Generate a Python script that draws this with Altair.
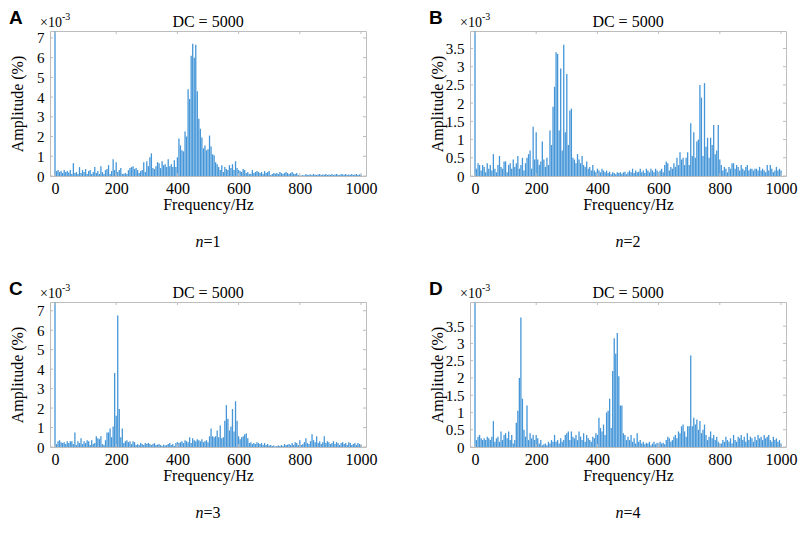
import altair as alt
import pandas as pd

# ---------------- data (amplitude values in units of 1e-3 %) ----------------
FREQS = list(range(5, 1001, 5))  # frequency bins 5..1000 Hz
DC_VALUE = 5000  # DC component (off scale, clipped at top)

AMP_A = [
    0.25, 0.3, 0.2, 0.25, 0.15, 0.3, 0.2, 0.25, 0.18, 0.3, 0.1, 0.65, 0.15, 0.2, 0.1, 0.45, 0.15, 0.3, 0.2, 0.35,
    0.1, 0.25, 0.3, 0.1, 0.2, 0.45, 0.15, 0.25, 0.1, 0.5, 0.2, 0.1, 0.3, 0.35, 0.55, 0.1, 0.25, 0.85, 0.3, 0.7,
    0.2, 0.3, 0.4, 0.1, 0.12, 0.15, 0.1, 0.3, 0.4, 0.45, 0.5, 0.35, 0.4, 0.3, 0.15, 0.25, 0.3, 0.7, 0.2, 0.75,
    0.5, 0.95, 1.15, 0.4, 0.35, 0.5, 0.7, 0.65, 0.4, 0.75, 0.55, 0.6, 0.45, 0.85, 0.5, 0.6, 0.45, 0.8, 0.45, 0.95,
    1.9, 1.55, 1.3, 1.25, 2.25, 2.0, 4.4, 3.9, 6.1, 6.7, 6.0, 6.65, 4.3, 2.9, 2.4, 1.95, 1.4, 1.55, 1.3, 1.35,
    2.05, 1.5, 1.1, 1.05, 0.7, 0.6, 0.45, 0.3, 0.55, 0.2, 0.45, 0.35, 0.3, 0.55, 0.4, 0.6, 0.3, 0.75, 0.4, 0.3,
    0.25, 0.2, 0.35, 0.3, 0.15, 0.2, 0.1, 0.12, 0.3, 0.15, 0.2, 0.25, 0.2, 0.15, 0.2, 0.1, 0.25, 0.15, 0.2, 0.25,
    0.05, 0.1, 0.15, 0.12, 0.15, 0.1, 0.2, 0.15, 0.1, 0.15, 0.2, 0.15, 0.1, 0.15, 0.2, 0.12, 0.1, 0.15, 0.05, 0.03,
    0.03, 0.05, 0.03, 0.1, 0.05, 0.06, 0.08, 0.05, 0.1, 0.06, 0.05, 0.08, 0.1, 0.05, 0.07, 0.06, 0.1, 0.05, 0.08, 0.06,
    0.1, 0.05, 0.08, 0.1, 0.06, 0.05, 0.1, 0.08, 0.06, 0.1, 0.05, 0.08, 0.06, 0.1, 0.05, 0.07, 0.1, 0.05, 0.08, 0.06,
]

AMP_B = [
    0.2, 0.35, 0.3, 0.15, 0.3, 0.25, 0.1, 0.35, 0.2, 0.3, 0.15, 0.6, 0.2, 0.1, 0.3, 0.55, 0.25, 0.2, 0.4, 0.4,
    0.1, 0.3, 0.35, 0.2, 0.45, 0.25, 0.35, 0.55, 0.2, 0.3, 0.5, 0.15, 0.35, 0.5, 0.6, 0.7, 0.2, 1.35, 0.45, 1.2,
    0.45, 0.3, 0.4, 0.95, 0.45, 0.25, 0.5, 0.3, 1.25, 0.85, 1.9, 2.45, 3.4, 3.35, 1.25, 2.95, 0.7, 3.6, 1.2, 2.8,
    0.85, 1.8, 1.85, 0.5, 0.45, 0.35, 0.6, 0.45, 0.35, 0.55, 0.3, 0.25, 0.4, 0.2, 0.25, 0.15, 0.3, 0.15, 0.1, 0.2,
    0.15, 0.1, 0.2, 0.15, 0.1, 0.15, 0.08, 0.12, 0.05, 0.1, 0.08, 0.05, 0.1, 0.08, 0.1, 0.06, 0.1, 0.12, 0.05, 0.1,
    0.15, 0.1, 0.2, 0.08, 0.15, 0.1, 0.12, 0.2, 0.1, 0.15, 0.08, 0.2, 0.15, 0.1, 0.2, 0.15, 0.1, 0.2, 0.15, 0.1,
    0.15, 0.2, 0.1, 0.3, 0.4, 0.35, 0.15, 0.25, 0.2, 0.35, 0.25, 0.5, 0.3, 0.65, 0.45, 0.5, 0.3, 0.5, 0.65, 0.3,
    1.45, 0.55, 1.2, 0.5, 0.95, 1.0, 2.5, 2.15, 0.55, 2.55, 0.8, 1.05, 0.5, 1.05, 0.85, 1.4, 0.6, 0.7, 1.4, 0.45,
    0.3, 0.15, 0.25, 0.2, 0.1, 0.25, 0.2, 0.35, 0.35, 0.2, 0.3, 0.25, 0.15, 0.3, 0.2, 0.15, 0.25, 0.3, 0.15, 0.2,
    0.2, 0.15, 0.2, 0.2, 0.15, 0.25, 0.15, 0.2, 0.15, 0.1, 0.3, 0.15, 0.3, 0.2, 0.1, 0.15, 0.25, 0.15, 0.2, 0.15,
]

AMP_C = [
    0.15, 0.3, 0.35, 0.25, 0.2, 0.25, 0.15, 0.3, 0.2, 0.3, 0.3, 0.15, 0.75, 0.1, 0.3, 0.2, 0.45, 0.15, 0.3, 0.2,
    0.35, 0.3, 0.1, 0.35, 0.15, 0.2, 0.55, 0.45, 0.4, 0.55, 0.15, 0.1, 0.35, 0.75, 0.75, 0.95, 0.5, 1.05, 3.8, 1.6,
    6.75, 1.95, 0.5, 0.95, 0.2, 0.3, 0.35, 0.25, 0.3, 0.15, 0.3, 0.25, 0.1, 0.15, 0.1, 0.2, 0.15, 0.1, 0.2, 0.15,
    0.2, 0.15, 0.1, 0.15, 0.2, 0.1, 0.12, 0.15, 0.1, 0.05, 0.12, 0.08, 0.1, 0.15, 0.2, 0.1, 0.15, 0.05, 0.2, 0.25,
    0.2, 0.25, 0.3, 0.2, 0.35, 0.3, 0.25, 0.5, 0.2, 0.45, 0.35, 0.3, 0.4, 0.35, 0.3, 0.4, 0.25, 0.3, 0.35, 0.25,
    0.55, 0.95, 0.55, 0.5, 0.55, 0.85, 0.5, 1.1, 0.45, 0.5, 1.35, 2.15, 1.45, 0.85, 1.05, 1.95, 0.8, 2.35, 1.35, 0.55,
    0.4, 0.5, 0.55, 0.65, 0.7, 0.45, 0.2, 0.25, 0.15, 0.2, 0.15, 0.25, 0.2, 0.15, 0.2, 0.1, 0.2, 0.1, 0.15, 0.08,
    0.1, 0.05, 0.08, 0.03, 0.05, 0.08, 0.05, 0.1, 0.05, 0.15, 0.1, 0.12, 0.15, 0.1, 0.2, 0.1, 0.25, 0.2, 0.1, 0.35,
    0.1, 0.15, 0.25, 0.45, 0.2, 0.15, 0.3, 0.65, 0.35, 0.25, 0.55, 0.2, 0.3, 0.15, 0.25, 0.55, 0.2, 0.3, 0.25, 0.15,
    0.2, 0.3, 0.15, 0.25, 0.2, 0.1, 0.2, 0.25, 0.15, 0.2, 0.1, 0.25, 0.2, 0.1, 0.15, 0.2, 0.1, 0.2, 0.15, 0.1,
]

AMP_D = [
    0.2, 0.3, 0.35, 0.25, 0.2, 0.25, 0.2, 0.3, 0.25, 0.2, 0.3, 0.75, 0.15, 0.25, 0.3, 0.15, 0.45, 0.2, 0.35, 0.4,
    0.25, 0.45, 0.2, 0.35, 0.1, 0.2, 0.7, 1.05, 2.0, 3.75, 1.4, 0.5, 0.3, 1.2, 0.2, 0.4, 0.25, 0.35, 0.2, 0.35,
    0.25, 0.1, 0.2, 0.05, 0.08, 0.1, 0.05, 0.15, 0.1, 0.2, 0.15, 0.35, 0.15, 0.2, 0.1, 0.25, 0.15, 0.2, 0.35, 0.4,
    0.45, 0.2, 0.45, 0.3, 0.25, 0.35, 0.2, 0.45, 0.3, 0.2, 0.4, 0.15, 0.35, 0.25, 0.2, 0.15, 0.3, 0.25, 0.4, 0.35,
    0.85, 0.55, 0.45, 0.65, 0.35, 1.0, 1.05, 1.4, 0.55, 2.2, 3.15, 2.7, 3.3, 2.05, 1.2, 1.2, 0.4, 0.35, 0.2, 0.3,
    0.2, 0.35, 0.15, 0.25, 0.1, 0.4, 0.15, 0.2, 0.1, 0.15, 0.08, 0.12, 0.1, 0.15, 0.05, 0.1, 0.15, 0.08, 0.12, 0.1,
    0.15, 0.1, 0.12, 0.08, 0.2, 0.3, 0.25, 0.15, 0.2, 0.3, 0.35, 0.25, 0.45, 0.4, 0.6, 0.65, 0.45, 0.3, 0.6, 0.6,
    2.65, 0.6, 0.85, 0.65, 0.8, 0.5, 0.75, 0.4, 0.5, 0.65, 0.35, 0.2, 0.3, 0.45, 0.25, 0.35, 0.2, 0.3, 0.15, 0.1,
    0.1, 0.2, 0.15, 0.3, 0.2, 0.15, 0.25, 0.1, 0.35, 0.2, 0.15, 0.3, 0.25, 0.35, 0.2, 0.3, 0.15, 0.4, 0.2, 0.3,
    0.25, 0.15, 0.3, 0.2, 0.35, 0.25, 0.3, 0.2, 0.35, 0.25, 0.3, 0.35, 0.2, 0.15, 0.3, 0.2, 0.25, 0.15, 0.2, 0.1,
]

LETTERS = ["A", "B", "C", "D"]
N_VALUES = ["=1", "=2", "=3", "=4"]
TITLE = "DC = 5000"
X_TITLE = "Frequency/Hz"
Y_TITLE = "Amplitude (%)"
X_TICKS = [0, 200, 400, 600, 800, 1000]
Y_TICKS_BIG = [0, 1, 2, 3, 4, 5, 6, 7]
Y_TICKS_SMALL = [0, 0.5, 1, 1.5, 2, 2.5, 3, 3.5]
Y_MAX = [7.35, 3.98, 7.45, 4.2]

# ---------------- style ----------------
SERIF = "Liberation Serif"
SANS = "Liberation Sans"
BAR = "#4596d8"
BOX = "#bdbdbd"
W, H = 316, 145


def text_layer(s, x, y, size, align="left", baseline="alphabetic", font=SERIF,
               weight="normal", style="normal"):
    return alt.Chart(pd.DataFrame({"t": [s]})).mark_text(
        font=font, fontSize=size, align=align, baseline=baseline,
        fontWeight=weight, fontStyle=style, color="black"
    ).encode(x=alt.value(x), y=alt.value(y), text="t:N")


def panel(letter, nval, amps, ymax, yticks):
    df = pd.DataFrame({"f": [0] + FREQS, "amp": [DC_VALUE] + amps})
    xs = alt.Scale(domain=[0, 1000], nice=False, zero=False)
    ys = alt.Scale(domain=[0, ymax], nice=False, clamp=True)
    xaxis = alt.Axis(
        values=X_TICKS, format="d", ticks=False, domain=False, grid=False,
        labelFont=SERIF, labelFontSize=16, labelColor="black", labelPadding=4,
        labelFlush=False, labelOverlap=False,
        title=X_TITLE, titleFont=SERIF, titleFontSize=16, titleFontWeight="normal",
        titleColor="black", titlePadding=0)
    yaxis = alt.Axis(
        values=yticks, format="~g", ticks=False, domain=False, grid=False,
        labelFont=SERIF, labelFontSize=15, labelColor="black", labelPadding=6,
        labelFlush=False, labelOverlap=False,
        title=Y_TITLE, titleFont=SERIF, titleFontSize=16, titleFontWeight="normal",
        titleColor="black", titleX=-28, titleY=H / 2, titleAngle=270,
        titleAlign="center", titleBaseline="alphabetic")
    X = alt.X("f:Q", scale=xs, axis=xaxis, title=X_TITLE)
    Y = alt.Y("amp:Q", scale=ys, axis=yaxis, title=Y_TITLE)

    bars = alt.Chart(df).mark_bar(width=1.3, color=BAR).encode(x=X, y=Y)
    xt = pd.DataFrame({"f": X_TICKS})
    yt = pd.DataFrame({"amp": yticks})
    tick_bottom = alt.Chart(xt).mark_rule(color=BOX).encode(
        x=X, y=alt.value(H), y2=alt.value(H - 3))
    tick_top = alt.Chart(xt).mark_rule(color=BOX).encode(
        x=X, y=alt.value(0), y2=alt.value(3))
    tick_left = alt.Chart(yt).mark_rule(color=BOX).encode(
        y=Y, x=alt.value(0), x2=alt.value(3))
    tick_right = alt.Chart(yt).mark_rule(color=BOX).encode(
        y=Y, x=alt.value(W - 3), x2=alt.value(W))

    texts = [
        text_layer(TITLE, W / 2, -4, 16, align="center"),
        text_layer("\u00d710", -10, -4, 14),
        text_layer("-3", 12, -11, 10),
        text_layer(letter, -41, -22, 19, baseline="top", font=SANS, weight="bold"),
        text_layer("n", W / 2 - 4.5, H + 66, 16, align="right", baseline="middle", style="italic"),
        text_layer(nval, W / 2 - 4.5, H + 66, 16, align="left", baseline="middle"),
    ]
    return alt.layer(bars, tick_bottom, tick_top, tick_left, tick_right, *texts).properties(
        width=W, height=H)


panels = [
    panel(LETTERS[0], N_VALUES[0], AMP_A, Y_MAX[0], Y_TICKS_BIG),
    panel(LETTERS[1], N_VALUES[1], AMP_B, Y_MAX[1], Y_TICKS_SMALL),
    panel(LETTERS[2], N_VALUES[2], AMP_C, Y_MAX[2], Y_TICKS_BIG),
    panel(LETTERS[3], N_VALUES[3], AMP_D, Y_MAX[3], Y_TICKS_SMALL),
]

chart = alt.concat(
    *panels, columns=2, spacing={"row": 126, "column": 104}, bounds="flush"
).properties(padding=0, background="white").configure_view(
    stroke=BOX, strokeWidth=1
)

chart.save("out.html", embed_options={"renderer": "svg", "actions": False})
